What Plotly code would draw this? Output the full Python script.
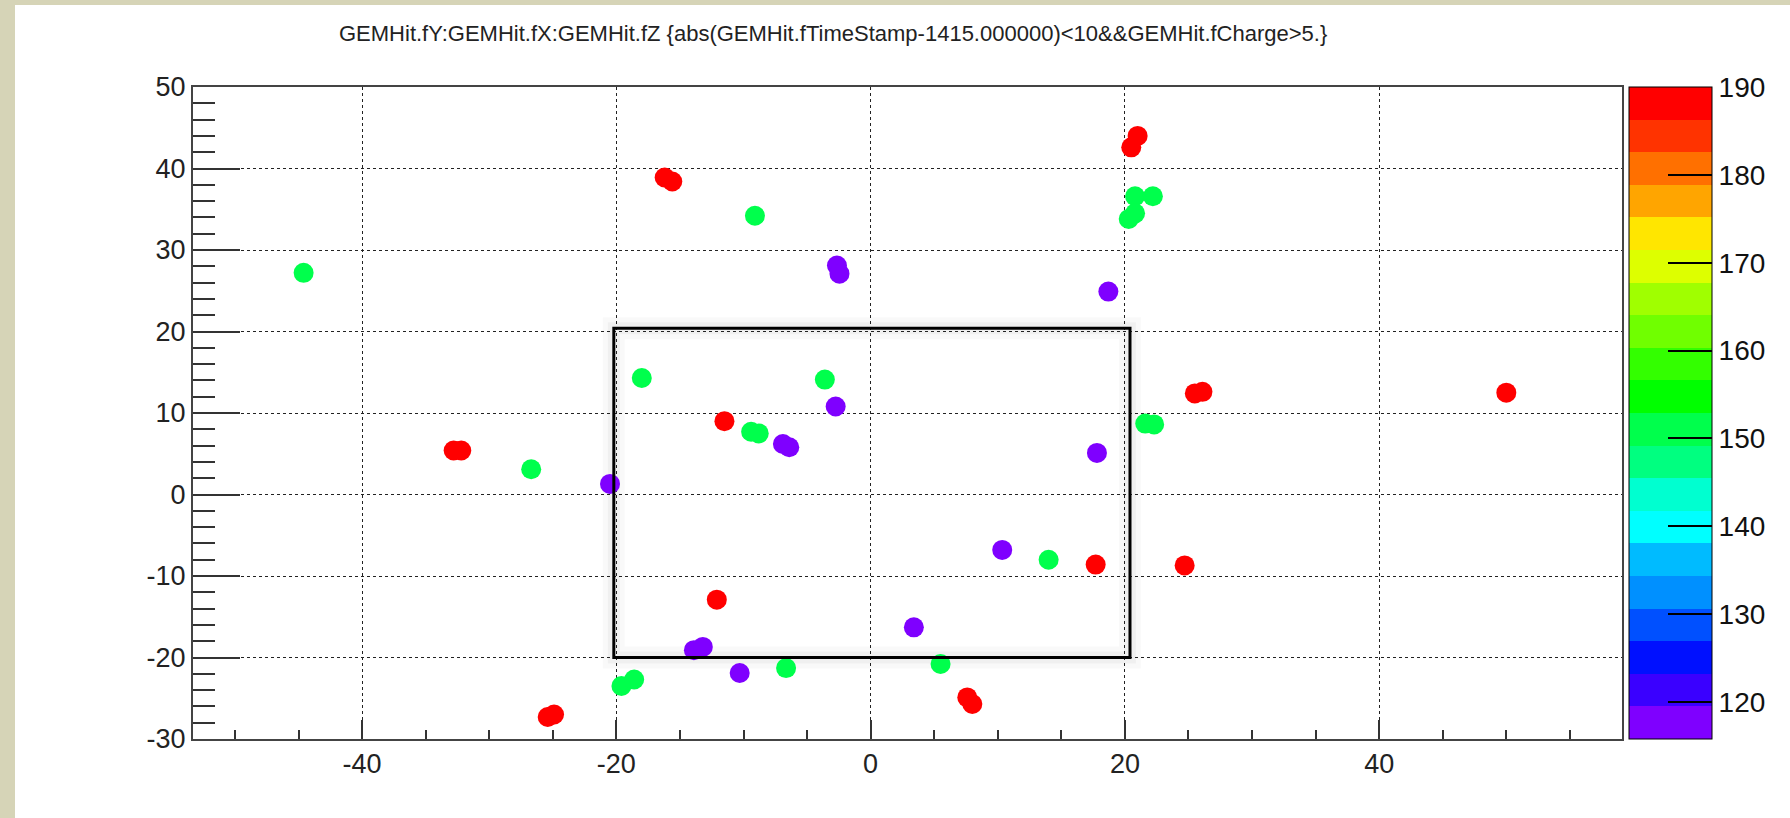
import plotly.graph_objects as go

# ---- data ----
hit_x = [-16.2, -15.6, 21.0, 20.5, -32.8, -32.2, -11.5, 25.5, 26.1, 50.0,
         17.7, 24.7, -12.1, -25.4, -24.9, 7.6, 8.0,
         -44.6, -9.1, 20.8, 22.2, 20.3, 20.8, -18.0, -3.6, -9.4, -8.8,
         21.6, 22.3, -26.7, 14.0, -19.6, -18.6, -6.65, 5.5,
         -2.65, -2.45, 18.7, -2.75, -6.9, -6.4, 17.8, -20.5, 10.35, 3.4,
         -13.9, -13.2, -10.3]
hit_y = [38.9, 38.4, 44.0, 42.6, 5.4, 5.4, 9.0, 12.4, 12.6, 12.5,
         -8.6, -8.7, -12.9, -27.3, -27.0, -24.9, -25.7,
         27.2, 34.2, 36.6, 36.6, 33.8, 34.5, 14.3, 14.1, 7.7, 7.5,
         8.7, 8.6, 3.1, -8.0, -23.5, -22.7, -21.3, -20.8,
         28.1, 27.1, 24.9, 10.8, 6.2, 5.8, 5.1, 1.3, -6.8, -16.3,
         -19.1, -18.7, -21.9]
hit_z = [189] * 17 + [151] * 18 + [117.5] * 13

x_range = [-53.3, 59.1]
y_range = [-30, 50]
z_range = [115.8, 190]
x_ticks = [-40, -20, 0, 20, 40]
x_ticktext = ["-40", "-20", "0", "20", "40"]
y_ticks = [-30, -20, -10, 0, 10, 20, 30, 40, 50]
y_ticktext = ["-30", "-20", "-10", "0", "10", "20", "30", "40", "50"]
z_ticks = [120, 130, 140, 150, 160, 170, 180, 190]
box_x = [-20.2, 20.4]
box_y = [-20.0, 20.4]

band_colors = ["#7F00FF", "#3A00FF", "#0010FF", "#0050FF", "#0090FF",
               "#00BBFF", "#00FFFF", "#00FFD0", "#00FF80", "#00FF4C",
               "#00FF00", "#33FF00", "#70FF00", "#A0FF00", "#DDFF00",
               "#FFE600", "#FFA500", "#FF7000", "#FF3300", "#FF0000"]

title_text = ("GEMHit.fY:GEMHit.fX:GEMHit.fZ {abs(GEMHit.fTimeStamp-1415.000000)"
              "&lt;10&amp;&amp;GEMHit.fCharge&gt;5.}")

# ---- stepped colorscale ----
n = len(band_colors)
colorscale = []
for i, c in enumerate(band_colors):
    colorscale.append([i / n, c])
    colorscale.append([(i + 1) / n, c])

W, H = 1790, 818
L, R, T, B = 193, 168, 87, 79
pw, ph = W - L - R, H - T - B

FONT = "Liberation Sans, Arial, Helvetica, sans-serif"

fig = go.Figure()
fig.add_trace(go.Scatter(
    x=hit_x, y=hit_y, mode="markers",
    marker=dict(size=20, color=hit_z, colorscale=colorscale,
                cmin=z_range[0], cmax=z_range[1], line=dict(width=0),
                showscale=True,
                colorbar=dict(
                    x=(1629 - L) / pw, xanchor="left", xpad=0,
                    y=0.5, yanchor="middle", ypad=0, len=1, lenmode="fraction",
                    thickness=83, thicknessmode="pixels",
                    outlinewidth=1, outlinecolor="#000",
                    tickmode="array", tickvals=z_ticks,
                    ticks="inside", ticklen=44, tickwidth=1.5, tickcolor="#000",
                    tickfont=dict(family=FONT, size=28, color="#111"),
                )),
    hoverinfo="skip", showlegend=False,
))

# shadow + box
for w, op in [(22, 0.025), (12, 0.035)]:
    fig.add_shape(type="rect", xref="x", yref="y", x0=box_x[0], x1=box_x[1],
                  y0=box_y[0], y1=box_y[1], layer="below",
                  line=dict(color=f"rgba(0,0,0,{op})", width=w))
fig.add_shape(type="rect", xref="x", yref="y", x0=box_x[0], x1=box_x[1],
              y0=box_y[0], y1=box_y[1], layer="above",
              line=dict(color="#000", width=3))

# beige border
beige = "#D6D4B7"
fig.add_shape(type="rect", xref="paper", yref="paper",
              x0=-0.3, x1=(15 - L) / pw, y0=-0.3, y1=1.3,
              fillcolor=beige, line=dict(width=0), layer="above")
fig.add_shape(type="rect", xref="paper", yref="paper",
              x0=-0.3, x1=1.3, y0=(H - B - 5) / ph, y1=1.3,
              fillcolor=beige, line=dict(width=0), layer="above")

fig.add_annotation(text=title_text, xref="paper", yref="paper",
                   x=(833 - L) / pw, y=(H - B - 34) / ph,
                   xanchor="center", yanchor="middle", showarrow=False,
                   font=dict(family=FONT, size=22, color="#222"))

axis_common = dict(
    showline=True, linecolor="#444", linewidth=2, mirror=True,
    showgrid=True, gridcolor="#222", griddash="dot", gridwidth=1,
    zeroline=False, ticks="inside", tickcolor="#333", tickwidth=2,
    tickfont=dict(family=FONT, size=27, color="#222"),
)

fig.update_xaxes(range=x_range, tickmode="array", tickvals=x_ticks,
                 ticktext=x_ticktext, ticklen=19,
                 minor=dict(dtick=5, tick0=0, ticks="inside", ticklen=9,
                            tickwidth=2, tickcolor="#333", showgrid=False),
                 **axis_common)
fig.update_yaxes(range=y_range, tickmode="array", tickvals=y_ticks,
                 ticktext=y_ticktext, ticklen=47,
                 minor=dict(dtick=2, tick0=0, ticks="inside", ticklen=22,
                            tickwidth=2, tickcolor="#333", showgrid=False),
                 **axis_common)

fig.update_layout(
    width=W, height=H, autosize=False,
    margin=dict(l=L, r=R, t=T, b=B, pad=0, autoexpand=False),
    paper_bgcolor="white", plot_bgcolor="white",
    font=dict(family=FONT),
)

fig.write_html("out.html")
